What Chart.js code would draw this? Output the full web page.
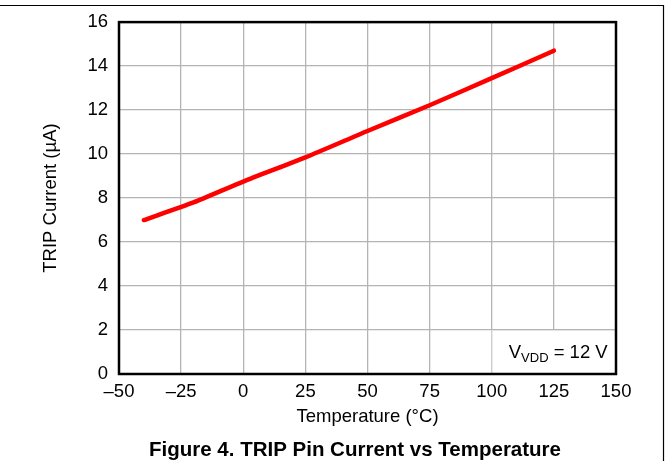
<!DOCTYPE html>
<html>
<head>
<meta charset="utf-8">
<script src="https://cdn.jsdelivr.net/npm/chart.js@4.4.1/dist/chart.umd.min.js"></script>
<style>
  html, body { margin: 0; padding: 0; background: #fff; }
  #wrap { width: 669px; height: 461px; position: relative; }
</style>
</head>
<body>
<div id="wrap"><canvas id="tripChart"></canvas></div>
<script>
// ==========================
// Data
// ==========================
const temperatures = [-40, -20, 0, 25, 50, 75, 100, 125];
const tripCurrent  = [7.0, 7.8, 8.75, 9.85, 11.05, 12.22, 13.45, 14.7];
const xTicks       = [-50, -25, 0, 25, 50, 75, 100, 125, 150];
const yTicks       = [0, 2, 4, 6, 8, 10, 12, 14, 16];

const FONT = "'Liberation Sans', Arial, sans-serif";

// frame, plot border, condition box and caption
const decorations = {
  id: "decorations",
  afterDraw(chart) {
    const { ctx, chartArea: a, scales } = chart;
    ctx.save();

    // condition box in lower-right corner
    const bx = scales.x.getPixelForValue(100);
    const by = scales.y.getPixelForValue(2);
    ctx.fillStyle = "#fff";
    ctx.fillRect(bx, by, a.right - bx, a.bottom - by);
    ctx.strokeStyle = "#e4e4e4";
    ctx.lineWidth = 1;
    ctx.strokeRect(bx + 0.5, by + 0.5, a.right - bx, a.bottom - by);

    ctx.fillStyle = "#000";
    ctx.textBaseline = "alphabetic";
    ctx.textAlign = "left";
    let tx = bx + 17, ty = by + 28;
    ctx.font = "18.5px " + FONT;
    ctx.fillText("V", tx, ty);
    tx += ctx.measureText("V").width;
    ctx.font = "13px " + FONT;
    ctx.fillText("VDD", tx, ty + 4);
    tx += ctx.measureText("VDD").width;
    ctx.font = "18.5px " + FONT;
    ctx.fillText(" = 12 V", tx, ty);

    // plot border
    ctx.strokeStyle = "#000";
    ctx.lineWidth = 2.5;
    ctx.strokeRect(a.left, a.top, a.right - a.left, a.bottom - a.top);

    // page frame: top and right rules
    ctx.lineWidth = 1.2;
    ctx.beginPath();
    ctx.moveTo(0, 5.5);
    ctx.lineTo(663.5, 5.5);
    ctx.lineTo(663.5, chart.height);
    ctx.stroke();

    // caption
    ctx.font = "bold 20.5px " + FONT;
    ctx.textAlign = "center";
    ctx.fillText("Figure 4. TRIP Pin Current vs Temperature", 355, 456);
    ctx.restore();
  }
};

new Chart(document.getElementById("tripChart"), {
  type: "line",
  data: {
    datasets: [{
      data: temperatures.map((t, i) => ({ x: t, y: tripCurrent[i] })),
      borderColor: "#ff0000",
      borderWidth: 4.5,
      borderCapStyle: "round",
      pointRadius: 0,
      tension: 0.2,
      fill: false
    }]
  },
  options: {
    responsive: true,
    maintainAspectRatio: false,
    animation: false,
    devicePixelRatio: 1,
    layout: { padding: { top: 21, right: 53, left: 0, bottom: 33 } },
    plugins: { legend: { display: false }, tooltip: { enabled: false } },
    scales: {
      x: {
        type: "linear",
        min: -50, max: 150,
        afterBuildTicks: s => { s.ticks = xTicks.map(v => ({ value: v })); },
        afterFit: s => { s.height = 54; },
        grid: { color: "#b4b4b4", lineWidth: 1.3, drawTicks: false },
        border: { display: false },
        ticks: {
          color: "#000", padding: 7,
          font: { family: FONT, size: 18.5 },
          maxRotation: 0,
          callback: v => (v < 0 ? "\u2013" + Math.abs(v) : String(v))
        },
        title: {
          display: true, text: "Temperature (\u00B0C)", color: "#000",
          font: { family: FONT, size: 18.5 }, padding: { top: 0, bottom: 0 }
        }
      },
      y: {
        type: "linear",
        min: 0, max: 16,
        afterBuildTicks: s => { s.ticks = yTicks.map(v => ({ value: v })); },
        afterFit: s => { s.width = 119; },
        grid: { color: "#b4b4b4", lineWidth: 1.3, drawTicks: false },
        border: { display: false },
        ticks: {
          color: "#000", padding: 11,
          font: { family: FONT, size: 18.5 }
        },
        title: {
          display: true, text: "TRIP Current (\u00B5A)", color: "#000",
          font: { family: FONT, size: 18.5 }, padding: { top: 40, bottom: 0 }
        }
      }
    }
  },
  plugins: [decorations]
});
</script>
</body>
</html>
